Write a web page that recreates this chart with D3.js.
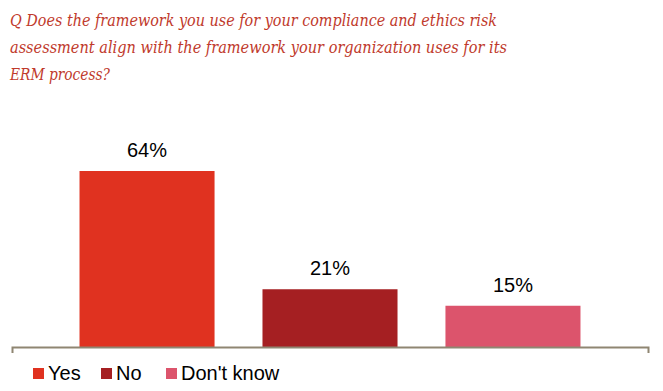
<!DOCTYPE html>
<html><head><meta charset="utf-8">
<script src="https://cdn.jsdelivr.net/npm/d3@7"></script>
<style>body{margin:0;background:#fff}svg{display:block}</style>
</head><body>
<svg id="c" width="663" height="391"></svg>
<script>
const categories = ["Yes", "No", "Don't know"];
const values = [64, 21, 15];
const colors = ["#e03220", "#a51f22", "#dc546c"];
const titleLines = [
  "Q Does the framework you use for your compliance and ethics risk",
  "assessment align with the framework your organization uses for its",
  "ERM process?"
];

const svg = d3.select("#c");

// title
const titleWidths = [487, 497, 100];
titleLines.forEach((t, i) => {
  svg.append("text")
    .attr("x", 10).attr("y", 26 + i * 27)
    .attr("font-family", "'DejaVu Serif', 'Liberation Serif', serif")
    .attr("font-style", "italic")
    .attr("font-size", 17.5)
    .attr("fill", "#bf3a2c")
    .attr("textLength", titleWidths[i])
    .attr("lengthAdjust", "spacingAndGlyphs")
    .text(t);
});

const x = d3.scaleBand().domain(categories).range([12, 648])
  .paddingInner(0.262).paddingOuter(0.369);
const y = d3.scaleLinear().domain([0, 80]).range([347, 127]);

svg.selectAll("rect.bar").data(values).join("rect")
  .attr("class", "bar")
  .attr("x", (d, i) => x(categories[i]))
  .attr("y", d => y(d))
  .attr("width", x.bandwidth())
  .attr("height", d => y(0) - y(d))
  .attr("fill", (d, i) => colors[i]);

svg.selectAll("text.lbl").data(values).join("text")
  .attr("class", "lbl")
  .attr("x", (d, i) => x(categories[i]) + x.bandwidth() / 2)
  .attr("y", d => y(d) - 14)
  .attr("text-anchor", "middle")
  .attr("font-family", "'Liberation Sans', Arial, sans-serif")
  .attr("font-size", 20)
  .attr("fill", "#000")
  .text(d => d + "%");

// x axis baseline with end ticks
const axisG = svg.append("g").attr("transform", `translate(0,${y(0)})`);
const axis = d3.axisBottom(d3.scaleLinear().domain([0, 1]).range([12, 648]))
  .tickValues([]).tickSizeOuter(6);
axisG.call(axis);
axisG.select(".domain").attr("stroke", "#8f8672").attr("stroke-width", 2);

// legend
const legendX = [33, 101, 166];
const leg = svg.selectAll("g.leg").data(categories).join("g")
  .attr("class", "leg")
  .attr("transform", (d, i) => `translate(${legendX[i]},368)`);
leg.append("rect").attr("width", 11).attr("height", 11)
  .attr("fill", (d, i) => colors[i]);
leg.append("text").attr("x", 15).attr("y", 12)
  .attr("font-family", "'Liberation Sans', Arial, sans-serif")
  .attr("font-size", 20).attr("fill", "#000")
  .text(d => d);
</script>
</body></html>
